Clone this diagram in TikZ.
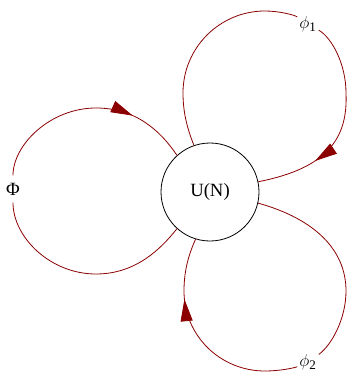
\documentclass[tikz,border=0pt]{standalone}
\usepackage{fontspec}
\setmainfont{Liberation Serif}
\usetikzlibrary{arrows.meta,decorations.markings}
\definecolor{edgered}{HTML}{8B0000}
\begin{document}
\begin{tikzpicture}[x=1pt,y=-1pt,
  edge/.style={draw=edgered, line width=0.8pt},
  arrowat/.style={postaction={decorate},decoration={markings, mark=at position #1 with {\arrow{Triangle[length=22pt,width=12pt,color=edgered]}}}},
  lbl/.style={inner sep=0pt, font=\fontsize{18.7}{22}\selectfont},
]
\useasboundingbox (0,0) rectangle (347,372);
\node[lbl, circle, draw, line width=0.8pt, minimum size=98pt] (c) at (210,192) {U(N)};
\node[lbl, minimum height=27pt] (Phi) at (13,189) {Φ};
\node[lbl, inner sep=2pt] (p1) at (308,24) {$\phi$\textsubscript{1}};
\node[lbl, inner sep=2pt] (p2) at (308,362) {$\phi$\textsubscript{2}};
% left loop
\draw[edge] (c.228) .. controls (160,250) and (135,274) .. (96,274) .. controls (50,274) and (13,237) .. (Phi);
\draw[edge, arrowat=0.72] (Phi) .. controls (13,145) and (50,108) .. (96,108) .. controls (135,108) and (160,130) .. (c.132);
% top loop
\draw[edge] (c.109) .. controls (187,128) and (183,112) .. (183,93) .. controls (183,47.7) and (219.7,11) .. (265,11) .. controls (280,11) and (294.8,15.2) .. (p1);
\draw[edge, arrowat=0.71] (p1) .. controls (332,37.8) and (346,64.4) .. (346,93) .. controls (348,138) and (328,168) .. (c.12);
% bottom loop
\draw[edge] (c.-13) .. controls (315,219) and (346,250) .. (346,291) .. controls (346,319.2) and (331.2,345.6) .. (p2);
\draw[edge, arrowat=0.71] (p2) .. controls (294.5,367.9) and (279.8,371) .. (265,371) .. controls (220.3,371) and (184,335.7) .. (184,291) .. controls (184,272) and (188,256) .. (c.253);
\end{tikzpicture}
\end{document}
